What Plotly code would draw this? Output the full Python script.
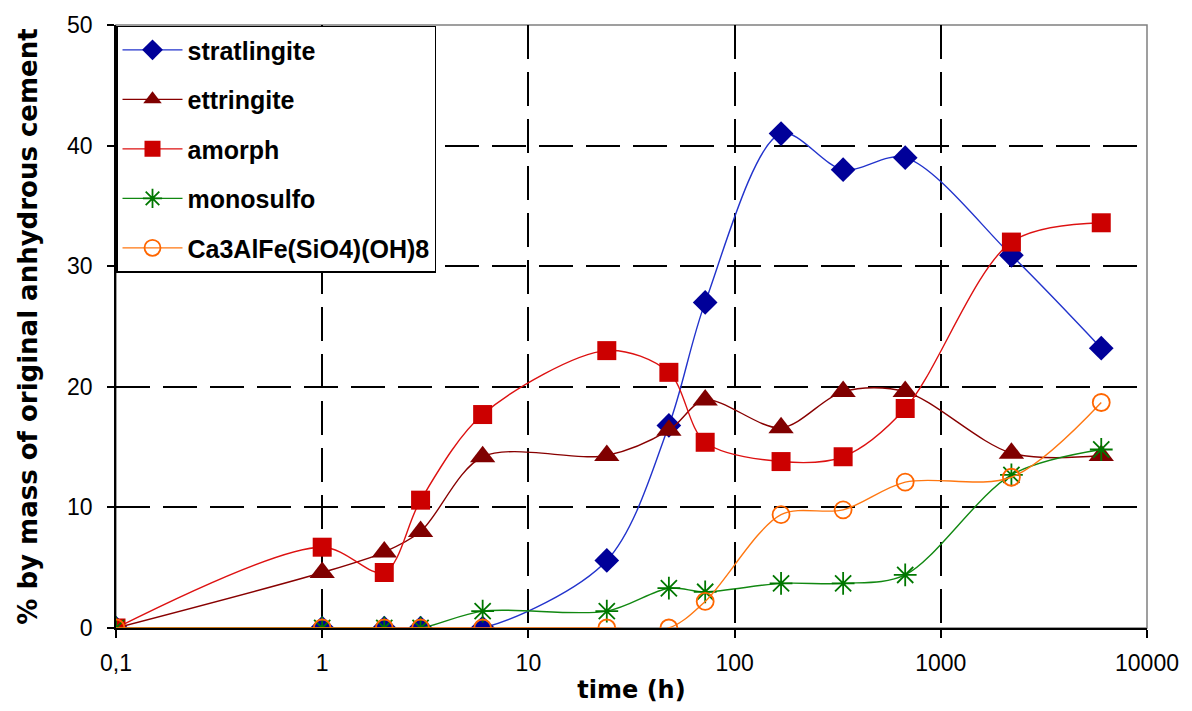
import plotly.graph_objects as go

time_h = [0.1, 1, 2, 3, 6, 24, 48, 72, 168, 336, 672, 2200, 6000]
stratlingite = [0, 0, 0, 0, 0, 5.6, 16.8, 27.0, 41.0, 38.0, 39.0, 30.9, 23.2]
ettringite = [0, 4.6, 6.3, 8.0, 14.2, 14.3, 16.4, 18.9, 16.6, 19.6, 19.6, 14.5, 14.3]
amorph = [0, 6.7, 4.6, 10.6, 17.7, 23.0, 21.2, 15.4, 13.8, 14.2, 18.2, 32.0, 33.6]
monosulfo = [0, 0, 0, 0, 1.4, 1.4, 3.3, 3.0, 3.7, 3.7, 4.4, 12.7, 14.8]
ca3alfe = [0, 0, 0, 0, 0, 0, 0, 2.2, 9.4, 9.8, 12.1, 12.5, 18.7]

x_tickvals = [0.1, 1, 10, 100, 1000, 10000]
x_ticktext = ["0,1", "1", "10", "100", "1000", "10000"]
y_tickvals = [0, 10, 20, 30, 40, 50]

FONT = "Liberation Sans, Arial, sans-serif"
TFONT = "DejaVu Sans, Verdana, sans-serif"

series = [
    ("stratlingite", stratlingite, "#2233CC", "#000099", "diamond", 19),
    ("ettringite", ettringite, "#880000", "#800000", "triangle-up", 22),
    ("amorph", amorph, "#DD1111", "#CC0000", "square", 19),
    ("monosulfo", monosulfo, "#118811", "#007700", "asterisk-open", 19),
    ("Ca3AlFe(SiO4)(OH)8", ca3alfe, "#FF7711", "#FF6600", "circle-open", 17),
]

fig = go.Figure()
for i, (name, vals, lc, mc, sym, sz) in enumerate(series):
    marker = dict(symbol=sym, size=sz, color=mc)
    if sym.endswith("open"):
        marker["line"] = dict(color=mc, width=1.8)
    fig.add_trace(go.Scatter(
        x=time_h, y=vals, name=f"<b>{name}</b>", mode="lines+markers",
        line=dict(color=lc, width=1.4, shape="spline", smoothing=0.9),
        marker=marker, legendgroup=f"g{i}",
    ))

# page body has an 8px margin, so margins are shifted by 8px
fig.update_layout(
    width=1192, height=711,
    margin=dict(l=108, r=53, t=17, b=91),
    paper_bgcolor="white", plot_bgcolor="white",
    font=dict(family=FONT, size=23, color="black"),
    showlegend=True,
    legend=dict(
        x=0.0, y=0.999, xanchor="left", yanchor="top",
        bordercolor="black", borderwidth=1.5, bgcolor="white",
        font=dict(family=FONT, size=25, color="black"),
        tracegroupgap=14, itemwidth=60,
    ),
    shapes=[dict(type="rect", xref="paper", yref="paper", x0=0, x1=1, y0=0, y1=1,
                 line=dict(color="#808080", width=1.5), layer="below")],
)

fig.update_xaxes(
    type="log", range=[-1, 4], automargin=False,
    tickvals=x_tickvals, ticktext=x_ticktext,
    tickprefix="<b>", ticksuffix="</b>",
    tickfont=dict(family=FONT, size=23, color="black"),
    ticks="outside", ticklen=8, tickwidth=1.5, tickcolor="black",
    ticklabelstandoff=6,
    showline=True, linecolor="black", linewidth=1.5,
    showgrid=True, gridcolor="black", gridwidth=2, griddash="34px,13px",
    zeroline=False,
    title=dict(text="<b>time (h)</b>", font=dict(family=TFONT, size=24, color="black"), standoff=6),
)
fig.update_yaxes(
    range=[0, 50], tickvals=y_tickvals, automargin=False,
    tickfont=dict(family=FONT, size=23, color="black"),
    tickprefix="<b>", ticksuffix="</b>",
    ticks="outside", ticklen=7, tickwidth=1.5, tickcolor="black",
    ticklabelstandoff=10,
    showline=True, linecolor="black", linewidth=1.5,
    showgrid=True, gridcolor="black", gridwidth=2, griddash="34px,13px",
    zeroline=False,
    title=dict(text="<b>% by mass of original anhydrous cement</b>",
               font=dict(family=TFONT, size=26, color="black"), standoff=22),
)

fig.write_html("out.html")
